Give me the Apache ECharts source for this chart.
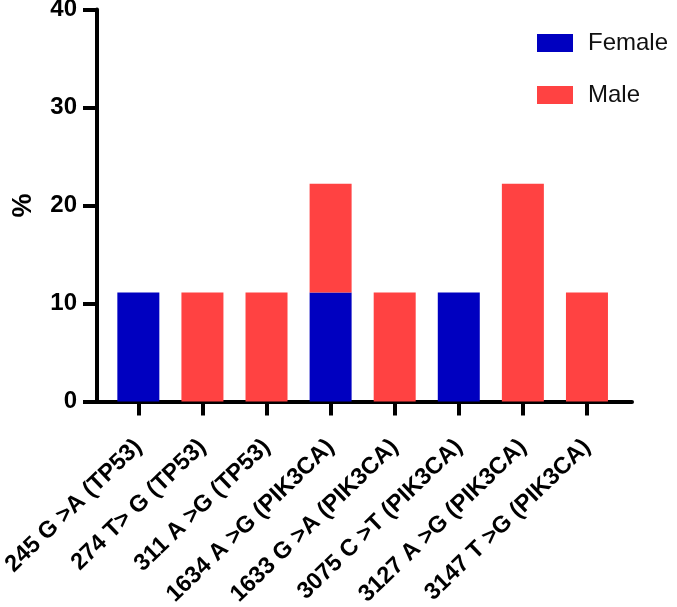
<!DOCTYPE html>
<html>
<head>
<meta charset="utf-8">
<script src="https://cdn.jsdelivr.net/npm/echarts@6/dist/echarts.min.js"></script>
<style>
html,body{margin:0;padding:0;background:#fff;}
#chart{width:677px;height:607px;}
</style>
</head>
<body>
<div id="chart"></div>
<script>
const categories = ['245 G >A (TP53)', '274 T> G (TP53)', '311 A >G (TP53)', '1634 A >G (PIK3CA)', '1633 G >A (PIK3CA)', '3075 C >T (PIK3CA)', '3127 A >G (PIK3CA)', '3147 T >G (PIK3CA)'];
const female = [11.11, 0, 0, 11.11, 0, 11.11, 0, 0];
const male = [0, 11.11, 11.11, 11.11, 11.11, 0, 22.22, 11.11];
const yTicks = [0, 10, 20, 30, 40];

const FONT = "'Liberation Sans', Arial, sans-serif";
const chart = echarts.init(document.getElementById('chart'), null, {renderer: 'canvas'});
chart.setOption({
  animation: false,
  backgroundColor: '#ffffff',
  legend: {
    orient: 'vertical',
    left: 532, top: 26,
    itemWidth: 36, itemHeight: 18, itemGap: 28,
    icon: 'rect',
    textStyle: {fontFamily: FONT, fontSize: 24, color: '#111', padding: [0, 0, 0, 10], lineHeight: 18},
    data: ['Female', 'Male']
  },
  grid: [
    {left: 106.3, right: 58, top: 9.5, bottom: 205.5, outerBoundsMode: 'none', containLabel: false},
    {left: 97, right: 45, top: 9.5, bottom: 205.5, outerBoundsMode: 'none', containLabel: false}
  ],
  xAxis: [
    {
      type: 'category', gridIndex: 0, data: categories,
      axisLine: {show: false},
      axisTick: {show: true, alignWithLabel: true, length: 14, lineStyle: {color: '#000', width: 4}},
      axisLabel: {rotate: 44, margin: 42, interval: 0, fontFamily: FONT, fontWeight: 'bold', fontSize: 23.5, color: '#000'}
    },
    {
      type: 'value', gridIndex: 1, min: 0, max: 1,
      axisLine: {show: true, lineStyle: {color: '#000', width: 4}},
      axisTick: {show: false}, axisLabel: {show: false}, splitLine: {show: false}
    }
  ],
  yAxis: [
    {type: 'value', gridIndex: 0, min: 0, max: 40, interval: 10, show: false},
    {
      type: 'value', gridIndex: 1, min: yTicks[0], max: yTicks[yTicks.length - 1], interval: 10,
      name: '%', nameLocation: 'middle', nameGap: 60,
      nameTextStyle: {fontFamily: FONT, fontWeight: 'bold', fontSize: 27, color: '#000'},
      axisLine: {show: true, lineStyle: {color: '#000', width: 4}},
      axisTick: {show: true, length: 14, lineStyle: {color: '#000', width: 4}},
      axisLabel: {margin: 20, fontFamily: FONT, fontWeight: 'bold', fontSize: 24, color: '#000'},
      splitLine: {show: false}
    }
  ],
  series: [
    {name: 'Female', type: 'bar', stack: 'total', xAxisIndex: 0, yAxisIndex: 0, barWidth: 42, data: female, itemStyle: {color: '#0000c0'}},
    {name: 'Male', type: 'bar', stack: 'total', xAxisIndex: 0, yAxisIndex: 0, barWidth: 42, data: male, itemStyle: {color: '#ff4242'}}
  ]
});
</script>
</body>
</html>
